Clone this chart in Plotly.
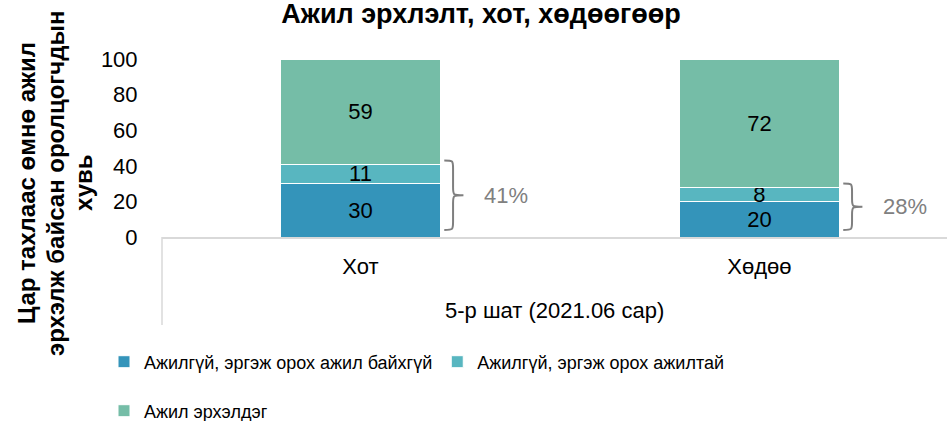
import plotly.graph_objects as go

categories = ["Хот", "Хөдөө"]
group_label = "5-р шат (2021.06 сар)"
series_names = [
    "Ажилгүй, эргэж орох ажил байхгүй",
    "Ажилгүй, эргэж орох ажилтай",
    "Ажил эрхэлдэг",
]
no_job = [30, 20]
has_job = [11, 8]
employed = [59, 72]
bracket_labels = ["41%", "28%"]
colors = ["#3494BA", "#58B6C0", "#75BDA7"]
y_ticks = [0, 20, 40, 60, 80, 100]
y_title_lines = ["Цар тахлаас өмнө ажил", "эрхэлж байсан оролцогчдын", "хувь"]

FONT = "Liberation Sans, Arial, sans-serif"
W, H = 947, 421
L, T, B = 162, 59, 184
PW, PH = W - L, H - T - B
xs = list(range(len(categories)))


def px_x(px):
    return (px - L) / PW


def px_y(py):
    return (H - B - py) / PH


fig = go.Figure()
for i, (name, vals) in enumerate(zip(series_names, [no_job, has_job, employed])):
    fig.add_trace(go.Bar(
        x=xs, y=vals, name=name,
        marker=dict(color=colors[i], line=dict(color="white", width=1)),
        width=0.4,
        text=[str(v) for v in vals],
        textposition="inside", insidetextanchor="middle", textangle=0,
        textfont=dict(family=FONT, size=22, color="black"),
        cliponaxis=False,
        hoverinfo="skip",
        legend="legend" if i < 2 else "legend2",
    ))

shapes = []
annotations = []
# braces for the unemployed share
for i, (a, b) in enumerate(zip(no_job, has_job)):
    total = a + b
    ytop, ybot = total + 2, 4
    ymid = (ytop + ybot) / 2
    xa = i + 0.21
    xb = xa + 0.022
    xc = xa + 0.048
    d = 4.5
    path = (f"M {xa},{ytop} C {xb},{ytop} {xb},{ytop} {xb},{ytop - d} "
            f"L {xb},{ymid + d} C {xb},{ymid} {xb},{ymid} {xc},{ymid} "
            f"C {xb},{ymid} {xb},{ymid} {xb},{ymid - d} "
            f"L {xb},{ybot + d} C {xb},{ybot} {xb},{ybot} {xa},{ybot}")
    shapes.append(dict(type="path", path=path, xref="x", yref="y",
                       line=dict(color="#7f7f7f", width=2)))
    annotations.append(dict(x=i + 0.365, y=ymid, xref="x", yref="y",
                            xanchor="center", yanchor="middle",
                            text=bracket_labels[i], showarrow=False,
                            font=dict(family=FONT, size=22, color="#808080")))

# multi-level category divider and group label
shapes.append(dict(type="line", xref="paper", yref="paper", x0=0, x1=0,
                   y0=0, y1=px_y(325), line=dict(color="#d9d9d9", width=1.5)))
annotations.append(dict(x=0.5, y=px_y(310), xref="paper", yref="paper",
                        xanchor="center", yanchor="middle",
                        text=group_label, showarrow=False,
                        font=dict(family=FONT, size=22, color="black")))
# y-axis title, one annotation per line
for line, cx in zip(y_title_lines, [26, 55, 83]):
    annotations.append(dict(x=px_x(cx), y=px_y(183), xref="paper", yref="paper",
                            xanchor="center", yanchor="middle",
                            text=f"<b>{line}</b>", showarrow=False, textangle=-90,
                            font=dict(family=FONT, size=24, color="black")))

fig.update_layout(
    barmode="stack",
    width=W, height=H,
    margin=dict(l=L, r=0, t=T, b=B, autoexpand=False),
    paper_bgcolor="white", plot_bgcolor="white",
    font=dict(family=FONT, size=22, color="black"),
    title=dict(text="<b>Ажил эрхлэлт, хот, хөдөөгөөр</b>", x=481 / W, xanchor="center",
               y=1 - 14 / H, yanchor="middle",
               font=dict(family=FONT, size=27, color="black")),
    xaxis=dict(range=[-0.4975, 1.47], tickvals=xs, ticktext=categories,
               showline=True, linecolor="#d9d9d9", linewidth=1.5,
               ticks="outside", ticklen=9, tickcolor="rgba(0,0,0,0)",
               showgrid=False, zeroline=False,
               tickfont=dict(family=FONT, size=22, color="black")),
    yaxis=dict(range=[0, 100], tickvals=y_ticks, showgrid=False, zeroline=False,
               showline=False, ticks="outside", ticklen=19,
               tickcolor="rgba(0,0,0,0)",
               tickfont=dict(family=FONT, size=22, color="black")),
    uniformtext=dict(minsize=22, mode="show"),
    legend=dict(orientation="h", x=px_x(104), xanchor="left", y=px_y(362), yanchor="middle",
                font=dict(family=FONT, size=18, color="black"),
                bgcolor="rgba(0,0,0,0)", traceorder="normal"),
    legend2=dict(orientation="h", x=px_x(104), xanchor="left", y=px_y(411), yanchor="middle",
                 font=dict(family=FONT, size=18, color="black"),
                 bgcolor="rgba(0,0,0,0)"),
    shapes=shapes,
    annotations=annotations,
)

fig.write_html("out.html",
               config={"displayModeBar": False},
               post_script="document.body.style.margin='0';document.body.style.overflow='hidden';")
